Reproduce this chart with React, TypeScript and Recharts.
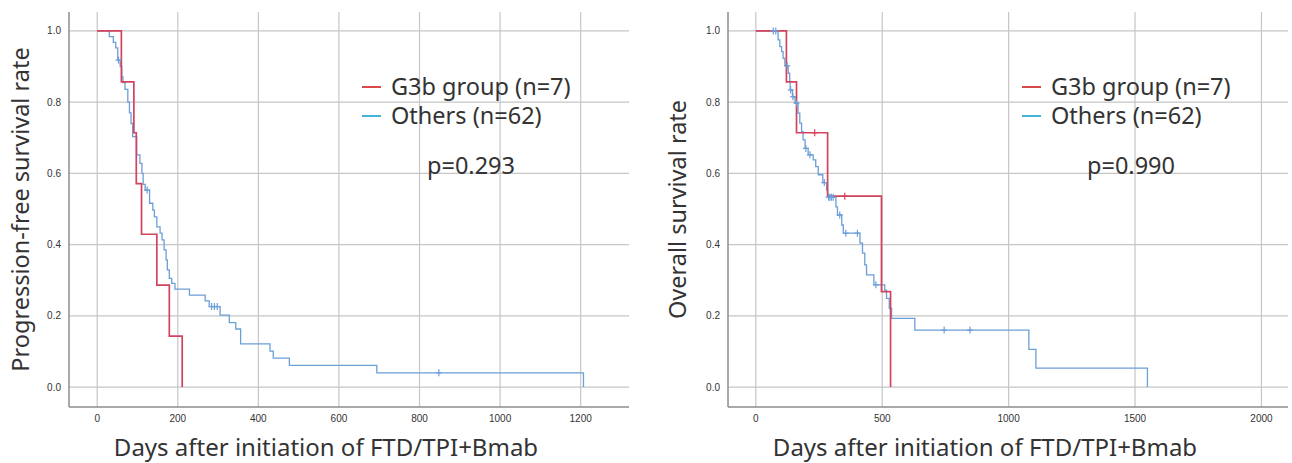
import React from 'react';
import { ComposedChart, Line, Scatter, XAxis, YAxis, ReferenceLine, Legend } from 'recharts';

// Colours
const RED = '#d4435e';
const BLUE = '#6b9fd8';
const LEGEND_RED = '#d94a4a';
const LEGEND_BLUE = '#45b3d3';
const GRID = '#c6c6c6';
const AXIS = '#8c8c8c';

const LABEL_FONT = '"Noto Sans", "Open Sans", sans-serif';
const TICK_FONT = '"Liberation Sans", Arial, sans-serif';

// Progression-free survival: G3b group (n=7)
const pfsG3bDays = [0, 60, 91, 97, 110, 148, 179, 211];
const pfsG3bRate = [1, 0.857, 0.714, 0.571, 0.429, 0.286, 0.143, 0];
const pfsG3bCensor: number[] = [];

// Progression-free survival: Others (n=62)
const pfsOtherDays = [
  0, 30, 40, 46, 51, 57, 61, 64, 69, 76, 80, 84, 88, 98, 106, 111, 114, 119, 130, 138, 142, 148,
  156, 161, 166, 171, 174, 179, 185, 193, 229, 268, 278, 305, 328, 344, 356, 429, 437, 477, 694, 1207,
];
const pfsOtherRate = [
  1, 0.984, 0.968, 0.952, 0.918, 0.9, 0.871, 0.855, 0.836, 0.8, 0.77, 0.74, 0.703, 0.652, 0.628,
  0.6, 0.569, 0.553, 0.516, 0.497, 0.478, 0.45, 0.432, 0.413, 0.385, 0.357, 0.329, 0.305, 0.291,
  0.275, 0.258, 0.242, 0.226, 0.202, 0.181, 0.163, 0.121, 0.101, 0.081, 0.061, 0.04, 0,
];
const pfsOtherCensor = [53, 124, 284, 291, 298, 848];

// Overall survival: G3b group (n=7)
const osG3bDays = [0, 121, 161, 284, 497, 533];
const osG3bRate = [1, 0.857, 0.714, 0.536, 0.268, 0];
const osG3bCensor = [233, 352];

// Overall survival: Others (n=62)
const osOtherDays = [
  0, 88, 95, 102, 108, 115, 128, 134, 136, 145, 155, 167, 174, 181, 187, 195, 207, 227, 237, 247,
  265, 280, 284, 317, 323, 340, 346, 412, 422, 431, 438, 467, 510, 517, 528, 537, 629, 1080, 1108, 1549,
];
const osOtherRate = [
  1, 0.975, 0.956, 0.942, 0.923, 0.902, 0.881, 0.858, 0.834, 0.815, 0.797, 0.769, 0.741, 0.717,
  0.694, 0.67, 0.652, 0.638, 0.619, 0.596, 0.574, 0.553, 0.533, 0.506, 0.483, 0.455, 0.432, 0.404,
  0.376, 0.343, 0.315, 0.287, 0.272, 0.249, 0.221, 0.193, 0.16, 0.106, 0.053, 0,
];
const osOtherCensor = [69, 79, 124, 138, 147, 161, 198, 214, 271, 288, 293, 299, 306, 332, 356, 402, 475, 745, 847];

// Axis ticks
const pfsTicks = [0, 200, 400, 600, 800, 1000, 1200];
const osTicks = [0, 500, 1000, 1500, 2000];
const rateTicks = [0, 0.2, 0.4, 0.6, 0.8, 1.0];

const groupNames = ['G3b group (n=7)', 'Others (n=62)'];
const xTitle = 'Days after initiation of FTD/TPI+Bmab';

type Pt = { t: number; s: number };

const toSteps = (days: number[], rates: number[]): Pt[] => days.map((t, i) => ({ t, s: rates[i] }));

// censor mark sits on the curve level at that day
const toCensor = (marks: number[], days: number[], rates: number[]): Pt[] =>
  marks.map((t) => {
    let idx = 0;
    days.forEach((d, i) => {
      if (d <= t) idx = i;
    });
    return { t, s: rates[idx] };
  });

const cross = (color: string) => (props: any) => {
  const { cx, cy } = props;
  if (cx == null || cy == null) return <g />;
  return (
    <g stroke={color} strokeWidth={1.2}>
      <line x1={cx - 3} x2={cx + 3} y1={cy} y2={cy} />
      <line x1={cx} x2={cx} y1={cy - 3.5} y2={cy + 3.5} />
    </g>
  );
};

function KMLegend({ pValue }: { pValue: string }) {
  const rows = [
    { name: groupNames[0], color: LEGEND_RED },
    { name: groupNames[1], color: LEGEND_BLUE },
  ];
  return (
    <div style={{ fontFamily: LABEL_FONT, fontSize: 23.5, color: '#333', lineHeight: '29px' }}>
      {rows.map((r) => (
        <div key={r.name} style={{ display: 'flex', alignItems: 'center', whiteSpace: 'nowrap' }}>
          <span
            style={{ display: 'inline-block', width: 19, height: 2, background: r.color, marginRight: 10 }}
          />
          <span>{r.name}</span>
        </div>
      ))}
      <div style={{ marginTop: 21, marginLeft: 65 }}>{pValue}</div>
    </div>
  );
}

interface PanelProps {
  left: number;
  width: number;
  marginLeft: number;
  marginRight: number;
  xDomain: [number, number];
  xTicks: number[];
  yTitle: string;
  yTitleOffset: number;
  pValue: string;
  legendLeft: number;
  red: Pt[];
  blue: Pt[];
  redCensor: Pt[];
  blueCensor: Pt[];
}

function KMPanel(p: PanelProps) {
  return (
    <div style={{ position: 'absolute', left: p.left, top: 0 }}>
      <ComposedChart
        width={p.width}
        height={463}
        margin={{ top: 12, right: p.marginRight, bottom: 0, left: p.marginLeft }}
      >
        {p.xTicks.map((v) => (
          <ReferenceLine key={`vx-${v}`} x={v} stroke={GRID} strokeWidth={1.2} />
        ))}
        {rateTicks.map((v) => (
          <ReferenceLine key={`hy-${v}`} y={v} stroke={GRID} strokeWidth={1.2} />
        ))}
        <XAxis
          type="number"
          dataKey="t"
          domain={p.xDomain}
          ticks={p.xTicks}
          allowDataOverflow
          height={56}
          tickSize={0}
          tickMargin={8}
          axisLine={{ stroke: AXIS, strokeWidth: 1.5 }}
          tick={{ fill: '#333', fontSize: 10, fontFamily: TICK_FONT }}
          label={{
            value: xTitle,
            position: 'insideBottom',
            offset: 7,
            dx: -23,
            fontSize: 24,
            fontFamily: LABEL_FONT,
            fill: '#333',
          }}
        />
        <YAxis
          type="number"
          dataKey="s"
          domain={[-0.056, 1.053]}
          ticks={rateTicks}
          allowDataOverflow
          width={40}
          tickSize={0}
          tickMargin={8}
          axisLine={{ stroke: AXIS, strokeWidth: 1.5 }}
          tickFormatter={(v: number) => v.toFixed(1)}
          tick={{ fill: '#333', fontSize: 10, fontFamily: TICK_FONT }}
          label={{
            value: p.yTitle,
            angle: -90,
            position: 'left',
            offset: p.yTitleOffset,
            textAnchor: 'middle',
            fontSize: 23.5,
            fontFamily: LABEL_FONT,
            fill: '#333',
          }}
        />
        <Legend
          layout="vertical"
          align="center"
          verticalAlign="middle"
          wrapperStyle={{ left: p.legendLeft, top: 72, width: 'auto' }}
          content={() => <KMLegend pValue={p.pValue} />}
        />
        <Line
          data={p.blue}
          dataKey="s"
          type="stepAfter"
          stroke={BLUE}
          strokeWidth={1.3}
          dot={false}
          activeDot={false}
          legendType="none"
          isAnimationActive={false}
        />
        <Scatter data={p.blueCensor} dataKey="s" shape={cross(BLUE)} legendType="none" isAnimationActive={false} />
        <Line
          data={p.red}
          dataKey="s"
          type="stepAfter"
          stroke={RED}
          strokeWidth={1.7}
          dot={false}
          activeDot={false}
          legendType="none"
          isAnimationActive={false}
        />
        <Scatter data={p.redCensor} dataKey="s" shape={cross(RED)} legendType="none" isAnimationActive={false} />
      </ComposedChart>
    </div>
  );
}

export default function App() {
  return (
    <div
      style={{ position: 'absolute', left: 0, top: 0, width: 1292, height: 463, background: '#fff', overflow: 'hidden' }}
    >
      <KMPanel
        left={0}
        width={640}
        marginLeft={29}
        marginRight={11}
        xDomain={[-70, 1320]}
        xTicks={pfsTicks}
        yTitle="Progression-free survival rate"
        yTitleOffset={8}
        pValue="p=0.293"
        legendLeft={362}
        red={toSteps(pfsG3bDays, pfsG3bRate)}
        blue={toSteps(pfsOtherDays, pfsOtherRate)}
        redCensor={toCensor(pfsG3bCensor, pfsG3bDays, pfsG3bRate)}
        blueCensor={toCensor(pfsOtherCensor, pfsOtherDays, pfsOtherRate)}
      />
      <KMPanel
        left={650}
        width={642}
        marginLeft={38}
        marginRight={4}
        xDomain={[-110, 2105]}
        xTicks={osTicks}
        yTitle="Overall survival rate"
        yTitleOffset={10}
        pValue="p=0.990"
        legendLeft={372}
        red={toSteps(osG3bDays, osG3bRate)}
        blue={toSteps(osOtherDays, osOtherRate)}
        redCensor={toCensor(osG3bCensor, osG3bDays, osG3bRate)}
        blueCensor={toCensor(osOtherCensor, osOtherDays, osOtherRate)}
      />
    </div>
  );
}
